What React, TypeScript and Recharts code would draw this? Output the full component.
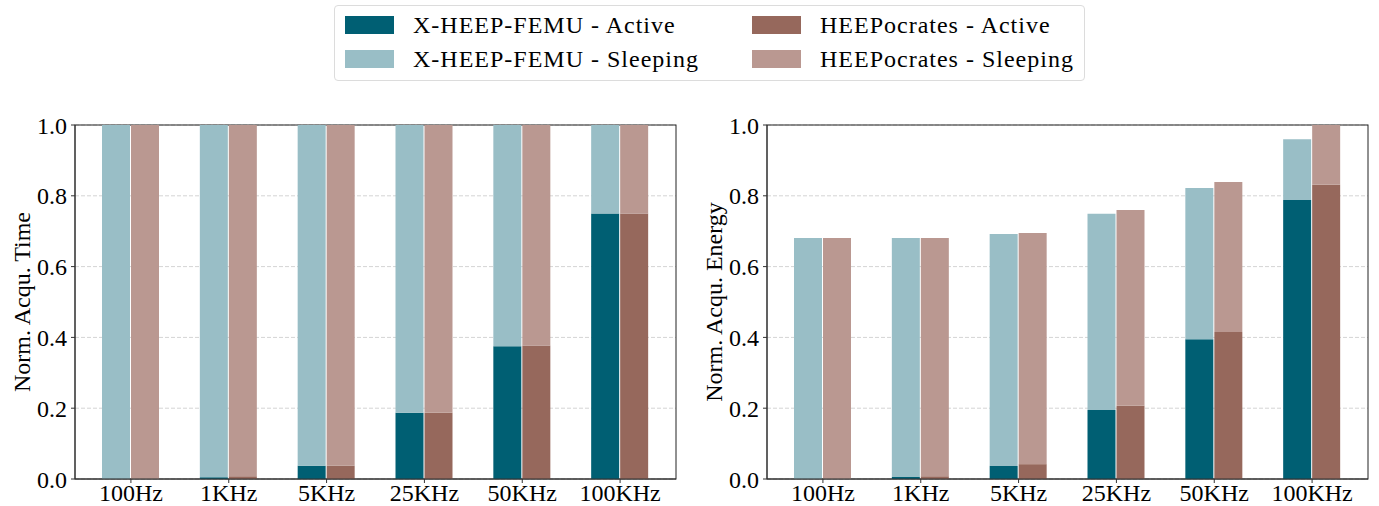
import * as R from 'recharts';
import { BarChart, Bar, XAxis, YAxis, CartesianGrid } from 'recharts';

const categories = ['100Hz', '1KHz', '5KHz', '25KHz', '50KHz', '100KHz'];

// normalized acquisition time
const timeFemuActive = [0.001, 0.005, 0.0375, 0.1875, 0.375, 0.75];
const timeFemuSleeping = [0.999, 0.995, 0.9625, 0.8125, 0.625, 0.25];
const timeHeepActive = [0.001, 0.0075, 0.0375, 0.1875, 0.377, 0.75];
const timeHeepSleeping = [0.999, 0.9925, 0.9625, 0.8125, 0.623, 0.25];

// normalized acquisition energy
const energyFemuActive = [0.001, 0.006, 0.037, 0.195, 0.395, 0.788];
const energyFemuSleeping = [0.68, 0.675, 0.655, 0.554, 0.427, 0.172];
const energyHeepActive = [0.001, 0.008, 0.042, 0.207, 0.415, 0.831];
const energyHeepSleeping = [0.68, 0.673, 0.653, 0.553, 0.424, 0.169];

const yTicks = [0, 0.2, 0.4, 0.6, 0.8, 1.0];

const COLORS = {
  femuActive: '#005F73',
  femuSleeping: '#99BEC6',
  heepActive: '#96685C',
  heepSleeping: '#BA9891',
};

const series = [
  { name: 'X-HEEP-FEMU - Active', color: COLORS.femuActive },
  { name: 'X-HEEP-FEMU - Sleeping', color: COLORS.femuSleeping },
  { name: 'HEEPocrates - Active', color: COLORS.heepActive },
  { name: 'HEEPocrates - Sleeping', color: COLORS.heepSleeping },
];

const FONT = "'Liberation Serif', 'DejaVu Serif', serif";

const build = (fa: number[], fs: number[], ha: number[], hs: number[]) =>
  categories.map((c, i) => ({ cat: c, fa: fa[i], fs: fs[i], ha: ha[i], hs: hs[i] }));

const timeData = build(timeFemuActive, timeFemuSleeping, timeHeepActive, timeHeepSleeping);
const energyData = build(energyFemuActive, energyFemuSleeping, energyHeepActive, energyHeepSleeping);

// plot-area box (top + right spines)
const useArea: any = (R as any).usePlotArea;
const useOff: any = (R as any).useOffset;
const useW: any = (R as any).useChartWidth;
const useH: any = (R as any).useChartHeight;

function Frame() {
  let box: any = null;
  if (useArea) {
    box = useArea();
  } else {
    const o = useOff();
    const w = useW();
    const h = useH();
    if (o && w && h) box = { x: o.left, y: o.top, width: w - o.left - o.right, height: h - o.top - o.bottom };
  }
  if (!box) return null;
  return <rect x={box.x} y={box.y} width={box.width} height={box.height} fill="none" stroke="#222" strokeWidth={1} />;
}

function Panel({ data, label, width, right, yWidth, labelOffset }: any) {
  const tickStyle = { fontSize: 24, fill: '#000', fontFamily: FONT };
  return (
    <BarChart
      width={width}
      height={506}
      data={data}
      margin={{ top: 125, right, bottom: 0, left: 0 }}
      barSize={28}
      barGap={1}
    >
      <CartesianGrid vertical={false} stroke="#d4d4d4" strokeDasharray="4 2" />
      <XAxis
        dataKey="cat"
        height={27}
        padding={{ left: 7, right: 7 }}
        tick={tickStyle}
        tickSize={4}
        tickMargin={1}
        stroke="#333"
        interval={0}
      />
      <YAxis
        domain={[0, 1]}
        ticks={yTicks}
        width={yWidth}
        tick={tickStyle}
        tickSize={4}
        tickMargin={4}
        stroke="#333"
        tickFormatter={(v: number) => v.toFixed(1)}
        allowDataOverflow
        label={{
          value: label,
          angle: -90,
          position: 'insideLeft',
          offset: labelOffset,
          style: { textAnchor: 'middle', fontSize: 24, fill: '#000', fontFamily: FONT },
        }}
      />
      <Bar dataKey="fa" stackId="femu" fill={COLORS.femuActive} isAnimationActive={false} />
      <Bar dataKey="fs" stackId="femu" fill={COLORS.femuSleeping} isAnimationActive={false} />
      <Bar dataKey="ha" stackId="heep" fill={COLORS.heepActive} isAnimationActive={false} />
      <Bar dataKey="hs" stackId="heep" fill={COLORS.heepSleeping} isAnimationActive={false} />
      <Frame />
    </BarChart>
  );
}

function Legend() {
  return (
    <div
      style={{
        position: 'absolute',
        left: 334,
        top: 5,
        width: 751,
        height: 76,
        border: '1px solid #dcdcdc',
        borderRadius: 4,
        boxSizing: 'border-box',
        fontFamily: FONT,
        fontSize: 24,
        letterSpacing: 1,
      }}
    >
      {series.map((s, i) => {
        const col = i < 2 ? 0 : 1;
        const row = i % 2;
        return (
          <div
            key={s.name}
            style={{
              position: 'absolute',
              left: col === 0 ? 10 : 417,
              top: 9 + row * 34,
              height: 20,
              display: 'flex',
              alignItems: 'center',
              whiteSpace: 'nowrap',
            }}
          >
            <span style={{ display: 'inline-block', width: 49, height: 18, background: s.color, marginRight: 19 }} />
            <span style={{ lineHeight: '20px' }}>{s.name}</span>
          </div>
        );
      })}
    </div>
  );
}

export default function App() {
  return (
    <div style={{ position: 'absolute', left: 0, top: 0, width: 1379, height: 506, background: '#fff' }}>
      <Legend />
      <div style={{ position: 'absolute', left: 0, top: 0 }}>
        <Panel data={timeData} label="Norm. Acqu. Time" width={690} right={14} yWidth={75} labelOffset={21} />
      </div>
      <div style={{ position: 'absolute', left: 690, top: 0 }}>
        <Panel data={energyData} label="Norm. Acqu. Energy" width={689} right={11} yWidth={77} labelOffset={23} />
      </div>
    </div>
  );
}
